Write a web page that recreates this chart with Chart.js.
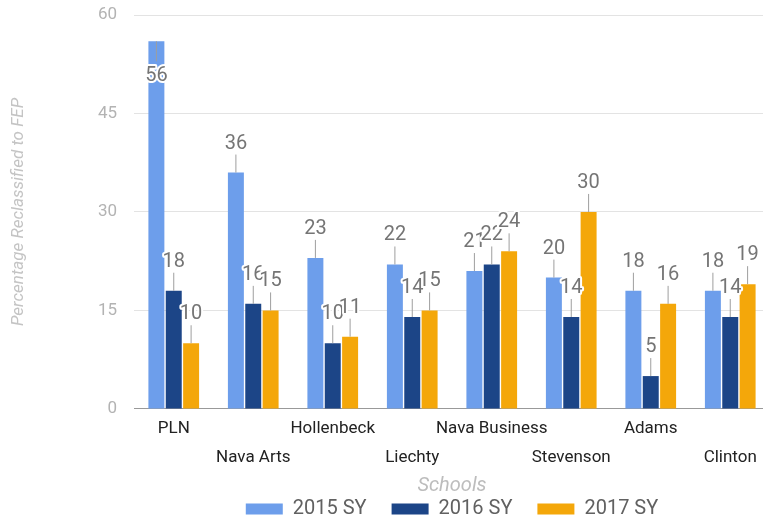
<!DOCTYPE html>
<html>
<head>
<meta charset="utf-8">
<script src="https://cdn.jsdelivr.net/npm/chart.js@4.4.1/dist/chart.umd.min.js"></script>
<style>
  html, body { margin: 0; padding: 0; background: #fff; overflow: hidden; }
  #wrap { width: 770px; height: 523px; }
</style>
</head>
<body>
<div id="wrap"><canvas id="grafic"></canvas></div>
<script>
const schools = ['PLN', 'Nava Arts', 'Hollenbeck', 'Liechty', 'Nava Business', 'Stevenson', 'Adams', 'Clinton'];
const sy2015 = [56, 36, 23, 22, 21, 20, 18, 18];
const sy2016 = [18, 16, 10, 14, 22, 14, 5, 14];
const sy2017 = [10, 15, 11, 15, 24, 30, 16, 19];
const yTicks = [0, 15, 30, 45, 60];

Chart.defaults.font.family = 'Roboto';

// labels above each bar with a short leader line, like the original
const leaderLabels = {
    id: 'leaderLabels',
    afterDatasetsDraw(chart) {
        const ctx = chart.ctx;
        const top = chart.chartArea.top;
        ctx.save();
        ctx.font = '20px Roboto';
        ctx.textAlign = 'center';
        ctx.textBaseline = 'middle';
        ctx.lineJoin = 'round';
        chart.data.datasets.forEach((ds, di) => {
            chart.getDatasetMeta(di).data.forEach((bar, i) => {
                const x = bar.x, y = bar.y;
                let lineEnd, textY;
                if (y - 40 < top) {
                    // no room above: put it inside the bar
                    lineEnd = y + 20;
                    textY = y + 35;
                } else {
                    lineEnd = y - 18;
                    textY = y - 29;
                }
                ctx.strokeStyle = '#9e9e9e';
                ctx.lineWidth = 1;
                ctx.beginPath();
                ctx.moveTo(x, y);
                ctx.lineTo(x, lineEnd);
                ctx.stroke();
                const txt = String(ds.data[i]);
                ctx.strokeStyle = '#fff';
                ctx.lineWidth = 4;
                ctx.strokeText(txt, x, textY);
                ctx.fillStyle = '#757575';
                ctx.fillText(txt, x, textY);
            });
        });
        ctx.restore();
    }
};

const barOpts = { categoryPercentage: 0.655, barPercentage: 0.92 };

new Chart(document.getElementById('grafic').getContext('2d'), {
    type: 'bar',
    data: {
        labels: schools,
        datasets: [
            { label: '2015 SY', data: sy2015, backgroundColor: '#6d9eeb', ...barOpts },
            { label: '2016 SY', data: sy2016, backgroundColor: '#1c4587', ...barOpts },
            { label: '2017 SY', data: sy2017, backgroundColor: '#f4a70a', ...barOpts }
        ]
    },
    options: {
        responsive: true,
        maintainAspectRatio: false,
        animation: false,
        layout: { padding: { top: 15, right: 0, left: 0, bottom: -6 } },
        plugins: {
            tooltip: { enabled: false },
            legend: {
                position: 'bottom',
                fullSize: false,
                labels: {
                    boxWidth: 37,
                    boxHeight: 11,
                    padding: 25,
                    color: '#616161',
                    font: { size: 20 }
                }
            }
        },
        scales: {
            x: {
                grid: { display: false, drawTicks: false },
                border: { display: true, color: '#999' },
                ticks: {
                    autoSkip: false,
                    maxRotation: 0,
                    padding: 5.5,
                    color: '#222',
                    font: { size: 17, lineHeight: 1.7 },
                    callback: (v, i) => i % 2 === 0 ? [schools[i], ''] : ['', schools[i]]
                },
                title: {
                    display: true,
                    text: 'Schools',
                    color: '#bdbdbd',
                    font: { size: 20, style: 'italic' },
                    padding: { top: -3.7, bottom: -24 }
                }
            },
            y: {
                min: 0,
                max: 60,
                afterBuildTicks: axis => { axis.ticks = yTicks.map(v => ({ value: v })); },
                afterFit: axis => { axis.width = 134; },
                grid: {
                    drawTicks: true,
                    tickLength: 17,
                    tickColor: 'rgba(0,0,0,0)',
                    color: c => c.tick && c.tick.value === 0 ? '#999' : '#e3e3e3'
                },
                border: { display: false },
                ticks: {
                    padding: 0,
                    color: '#b3b3b3',
                    font: { size: 17 }
                },
                title: {
                    display: true,
                    text: 'Percentage Reclassified to FEP',
                    color: '#c4c4c4',
                    font: { size: 17, style: 'italic' },
                    padding: { top: 8.3, bottom: 0 }
                }
            }
        }
    },
    plugins: [leaderLabels]
});
</script>
</body>
</html>
